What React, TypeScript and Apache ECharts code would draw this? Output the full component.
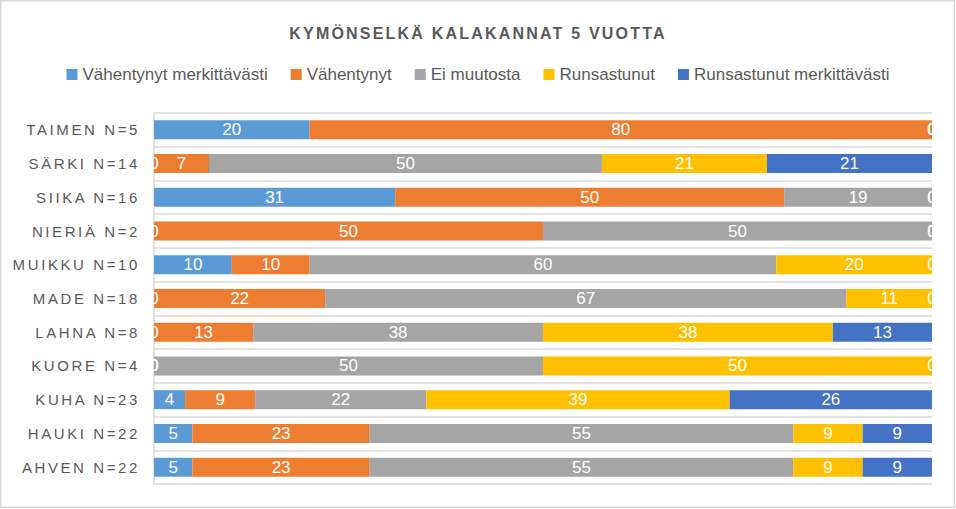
import React, { useEffect, useRef } from "react";
import * as echarts from "echarts";

const TITLE = "KYMÖNSELKÄ KALAKANNAT 5 VUOTTA";
const CATEGORIES = [
  "TAIMEN N=5",
  "SÄRKI N=14",
  "SIIKA N=16",
  "NIERIÄ N=2",
  "MUIKKU N=10",
  "MADE N=18",
  "LAHNA N=8",
  "KUORE N=4",
  "KUHA N=23",
  "HAUKI N=22",
  "AHVEN N=22",
];
const SERIES_NAMES = [
  "Vähentynyt merkittävästi",
  "Vähentynyt",
  "Ei muutosta",
  "Runsastunut",
  "Runsastunut merkittävästi",
];
const VAHENTYNYT_MERKITTAVASTI = [20, 0, 31, 0, 10, 0, 0, 0, 4, 5, 5];
const VAHENTYNYT = [80, 7, 50, 50, 10, 22, 13, 0, 9, 23, 23];
const EI_MUUTOSTA = [0, 50, 19, 50, 60, 67, 38, 50, 22, 55, 55];
const RUNSASTUNUT = [0, 21, 0, 0, 20, 11, 38, 50, 39, 9, 9];
const RUNSASTUNUT_MERKITTAVASTI = [0, 21, 0, 0, 0, 0, 13, 0, 26, 9, 9];
const COLORS = ["#5B9BD5", "#ED7D31", "#A5A5A5", "#FFC000", "#4472C4"];

const ALL = [
  VAHENTYNYT_MERKITTAVASTI,
  VAHENTYNYT,
  EI_MUUTOSTA,
  RUNSASTUNUT,
  RUNSASTUNUT_MERKITTAVASTI,
];

export default function App() {
  const ref = useRef<HTMLDivElement>(null);
  useEffect(() => {
    if (!ref.current) return;
    const chart = echarts.init(ref.current, undefined, { renderer: "svg" });
    const sums = CATEGORIES.map((_, i) => ALL.reduce((s, arr) => s + arr[i], 0));
    const series = ALL.map((arr, si) => ({
      name: SERIES_NAMES[si],
      type: "bar",
      stack: "total",
      barWidth: 19,
      itemStyle: { color: COLORS[si] },
      label: {
        show: true,
        position: "inside",
        color: "#ffffff",
        fontSize: 17,
        fontFamily: "Liberation Sans",
        formatter: (p: any) => String(arr[p.dataIndex]),
      },
      data: arr.map((v, i) => (v / sums[i]) * 100),
    }));
    chart.setOption({
      animation: false,
      backgroundColor: "#ffffff",
      title: {
        text: TITLE,
        left: "center",
        top: 20,
        textStyle: {
          color: "#595959",
          fontSize: 16,
          fontWeight: "bold",
          fontFamily: '"Liberation Sans", lsTitle',
        },
      },
      legend: {
        top: 61,
        left: "center",
        icon: "rect",
        itemWidth: 11,
        itemHeight: 11,
        itemGap: 23,
        textStyle: {
          color: "#595959",
          fontSize: 17,
          fontFamily: "Liberation Sans",
        },
        data: SERIES_NAMES,
      },
      grid: { left: 154, right: 24, top: 113, bottom: 25, containLabel: false },
      xAxis: { type: "value", min: 0, max: 100, show: false },
      yAxis: {
        type: "category",
        inverse: true,
        data: CATEGORIES,
        axisLine: { show: true, lineStyle: { color: "#d9d9d9", width: 1.5 } },
        axisTick: { show: false },
        splitLine: { show: true, lineStyle: { color: "#d9d9d9", width: 1.5 } },
        axisLabel: {
          color: "#595959",
          fontSize: 15,
          margin: 14,
          fontFamily: '"Liberation Sans", lsAxis',
        },
      },
      graphic: [
        {
          type: "rect",
          shape: { x: 0.75, y: 0.75, width: 953.5, height: 506.5 },
          style: { fill: "none", stroke: "#d9d9d9", lineWidth: 1.5 },
          silent: true,
          z: 100,
        },
      ],
      series,
    });
    return () => chart.dispose();
  }, []);
  return (
    <>
      <style>{`
        text[style*="lsTitle"] { letter-spacing: 2.2px; }
        text[style*="lsAxis"] { letter-spacing: 2.6px; }
      `}</style>
      <div
        ref={ref}
        style={{ position: "fixed", left: 0, top: 0, width: 956, height: 509 }}
      />
    </>
  );
}
